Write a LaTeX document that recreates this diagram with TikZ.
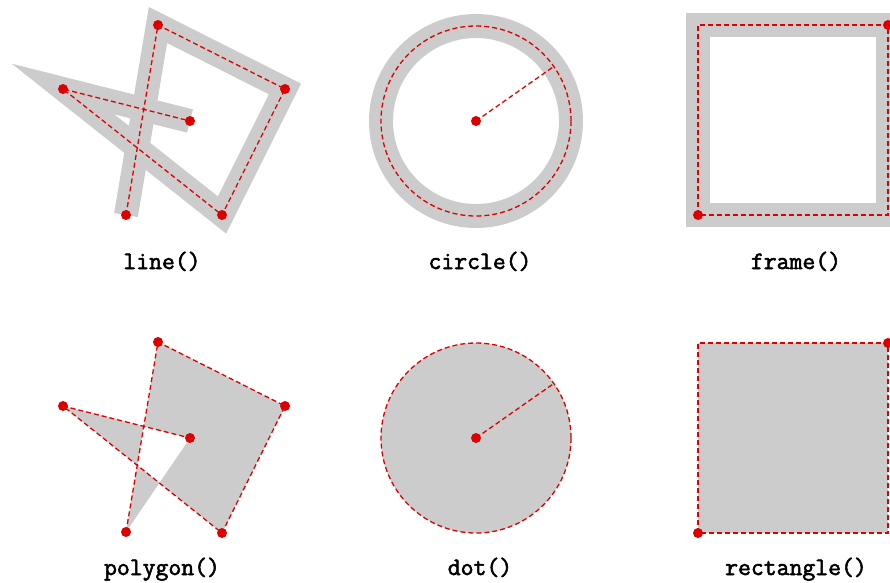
\documentclass[tikz,border=0pt]{standalone}
\usepackage{fontspec}
\newfontfamily\lblfont{Latin Modern Mono}[FakeBold=2.2]
\usetikzlibrary{calc}
\definecolor{shapegray}{HTML}{CCCCCC}
\definecolor{guide}{HTML}{DD0000}
\tikzset{
  thick gray/.style={draw=shapegray, line width=24pt, line join=miter, line cap=butt, miter limit=10},
  guideline/.style={draw=guide, line width=1.3pt, dash pattern=on 5pt off 3pt},
  ptdot/.style={fill=guide, circle, inner sep=0pt, minimum size=10pt},
  lbl/.style={font=\fontsize{25}{29}\selectfont\lblfont, anchor=base, inner sep=0pt}
}
\begin{document}
\begin{tikzpicture}[x=1pt,y=-1pt]
\useasboundingbox (0,0) rectangle (890,582);
% ---- line() ----
\coordinate (la) at (126,215);
\coordinate (lb) at (158,25);
\coordinate (lc) at (285,89);
\coordinate (ld) at (222,215);
\coordinate (le) at (63,89);
\coordinate (lf) at (190,121);
\draw[thick gray] (la) -- (lb) -- (lc) -- (ld) -- (le) -- (lf);
\draw[guideline] (la) -- (lb) -- (lc) -- (ld) -- (le) -- (lf);
\foreach \p in {la,lb,lc,ld,le,lf} \node[ptdot] at (\p) {};
\node[lbl] (t1) at (162,269) {line()};
% ---- circle() ----
\coordinate (cc) at (476,121);
\coordinate (cr) at ($(cc)+(77.8,-54.5)$);
\draw[thick gray] (cc) circle[radius=95pt];
\draw[guideline] (cc) circle[radius=95pt];
\draw[guideline] (cc) -- (cr);
\node[ptdot] at (cc) {};
\node[lbl] (t2) at (480,269) {circle()};
% ---- frame() ----
\coordinate (fa) at (698,215);
\coordinate (fb) at (888,25);
\draw[thick gray] (fa) rectangle (fb);
\draw[guideline] (fa) rectangle (fb);
\node[ptdot] at (fa) {};
\node[ptdot] at (fb) {};
\node[lbl] (t3) at (796,269) {frame()};
% ---- polygon() ----
\coordinate (pa) at (126,532);
\coordinate (pb) at (158,342);
\coordinate (pc) at (285,406);
\coordinate (pd) at (222,533);
\coordinate (pe) at (63,406);
\coordinate (pf) at (190,438);
\fill[shapegray, even odd rule] (pa) -- (pb) -- (pc) -- (pd) -- (pe) -- (pf) -- cycle;
\draw[guideline] (pa) -- (pb) -- (pc) -- (pd) -- (pe) -- (pf);
\foreach \p in {pa,pb,pc,pd,pe,pf} \node[ptdot] at (\p) {};
\node[lbl] (t4) at (162,575) {polygon()};
% ---- dot() ----
\coordinate (dc) at (476,438);
\coordinate (dr) at ($(dc)+(77.8,-54.5)$);
\fill[shapegray] (dc) circle[radius=95pt];
\draw[guideline] (dc) circle[radius=95pt];
\draw[guideline] (dc) -- (dr);
\node[ptdot] at (dc) {};
\node[lbl] (t5) at (480,575) {dot()};
% ---- rectangle() ----
\coordinate (ra) at (698,533);
\coordinate (rb) at (888,343);
\fill[shapegray] (ra) rectangle (rb);
\draw[guideline] (ra) rectangle (rb);
\node[ptdot] at (ra) {};
\node[ptdot] at (rb) {};
\node[lbl] (t6) at (796,575) {rectangle()};
\end{tikzpicture}
\end{document}
